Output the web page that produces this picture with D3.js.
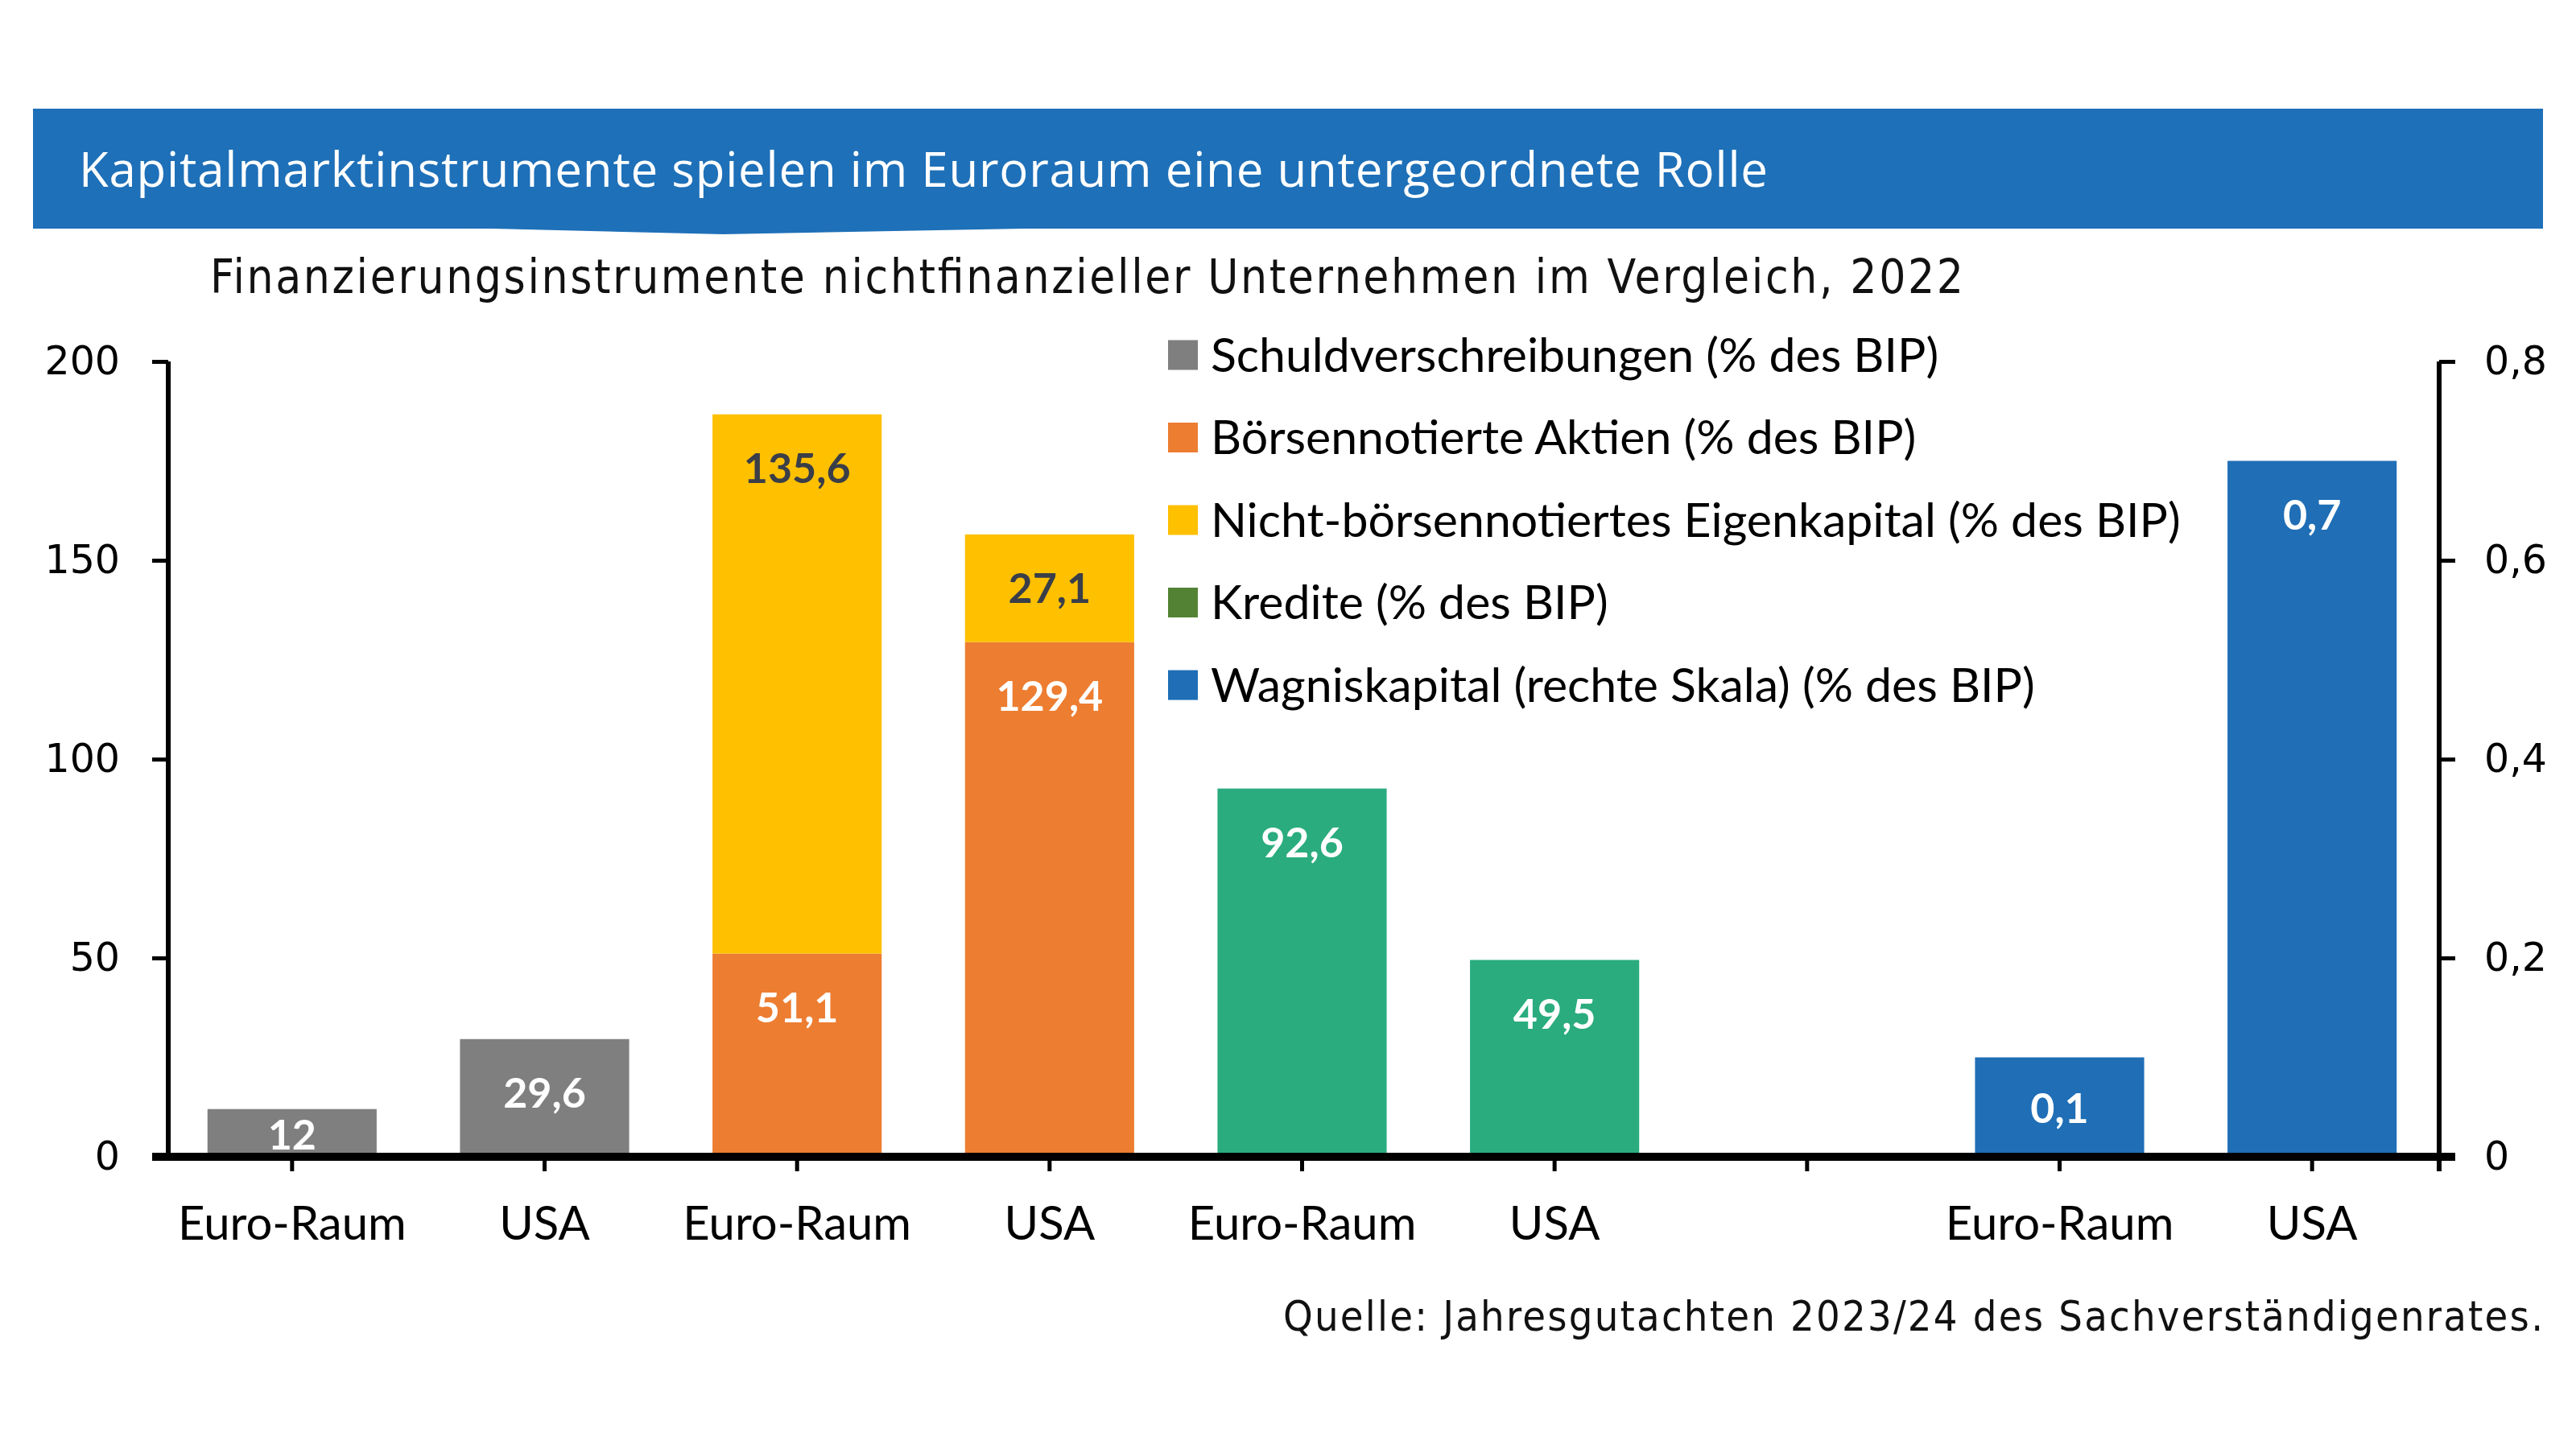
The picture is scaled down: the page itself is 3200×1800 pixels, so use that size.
<!DOCTYPE html>
<html>
<head>
<meta charset="utf-8">
<script src="https://cdn.jsdelivr.net/npm/d3@7"></script>
<style>
  body { margin: 0; background: #fff; }
</style>
</head>
<body>
<div id="chart"></div>
<script>
// chart data
const categories = ["Euro-Raum", "USA", "Euro-Raum", "USA", "Euro-Raum", "USA", "", "Euro-Raum", "USA"];
const schuldverschreibungen = [12, 29.6, 0, 0, 0, 0, 0, 0, 0];
const aktien = [0, 0, 51.1, 129.4, 0, 0, 0, 0, 0];
const eigenkapital = [0, 0, 135.6, 27.1, 0, 0, 0, 0, 0];
const kredite = [0, 0, 0, 0, 92.6, 49.5, 0, 0, 0];
const wagniskapital = [0, 0, 0, 0, 0, 0, 0, 0.1, 0.7];   // rechte Skala
const leftTicks = [0, 50, 100, 150, 200];
const rightTicks = [0, 0.2, 0.4, 0.6, 0.8];
const legendNames = [
  "Schuldverschreibungen (% des BIP)",
  "Börsennotierte Aktien (% des BIP)",
  "Nicht-börsennotiertes Eigenkapital (% des BIP)",
  "Kredite (% des BIP)",
  "Wagniskapital (rechte Skala) (% des BIP)"
];

const title = "Kapitalmarktinstrumente spielen im Euroraum eine untergeordnete Rolle";
const subtitle = "Finanzierungsinstrumente nichtfinanzieller Unternehmen im Vergleich, 2022";
const source = "Quelle: Jahresgutachten 2023/24 des Sachverständigenrates.";

const width = 3200, height = 1800;
const colors = {
  schuld: "#7f7f7f", aktien: "#ed7d31", eigen: "#ffc000",
  kredite: "#2aac7e", kreditLegend: "#548235", wagnis: "#1f6eb6"
};
const legendColors = [colors.schuld, colors.aktien, colors.eigen, colors.kreditLegend, colors.wagnis];

const de = d3.formatLocale({ decimal: ",", thousands: ".", grouping: [3], currency: ["", " €"] });
const fmt = de.format("~g");

const svg = d3.select("#chart").append("svg")
  .attr("width", width).attr("height", height);

// header band
svg.append("rect").attr("x", 41).attr("y", 135).attr("width", 3118).attr("height", 149)
  .attr("fill", "#1e70b8");
svg.append("path").attr("d", "M571,283 L898,291 L1327,283 Z").attr("fill", "#1e70b8");
svg.append("text").attr("x", 98).attr("y", 232)
  .attr("font-family", "'Open Sans'").attr("font-size", 60).attr("fill", "#fff")
  .attr("textLength", 2098)
  .text(title);

svg.append("text").attr("x", 261).attr("y", 364)
  .attr("font-family", "'DejaVu Sans Condensed', 'DejaVu Sans'").attr("font-size", 58).attr("fill", "#111")
  .attr("textLength", 2178)
  .text(subtitle);

// scales
const x = d3.scaleBand()
  .domain(categories.map((d, i) => i))
  .range([206, 3029])
  .paddingInner(0.33)
  .paddingOuter(0.165);
const y = d3.scaleLinear().domain([0, 200]).range([1437, 449]);
const y2 = d3.scaleLinear().domain([0, 0.8]).range([1437, 449]);

// stacked left-axis series
const rows = categories.map((c, i) => ({
  i: i, schuld: schuldverschreibungen[i], aktien: aktien[i], eigen: eigenkapital[i], kredite: kredite[i]
}));
const keys = ["schuld", "aktien", "kredite", "eigen"];
const stacked = d3.stack().keys(keys)(rows);

const labelColor = { schuld: "#fff", aktien: "#fff", eigen: "#3a3e48", kredite: "#fff", wagnis: "#fff" };
const segs = [];
stacked.forEach(s => s.forEach(d => {
  if (d[1] - d[0] > 0) segs.push({ key: s.key, i: d.data.i, y0: d[0], y1: d[1], v: d[1] - d[0], sc: y });
}));
wagniskapital.forEach((v, i) => {
  if (v > 0) segs.push({ key: "wagnis", i: i, y0: 0, y1: v, v: v, sc: y2 });
});

svg.append("g").selectAll("rect").data(segs).enter().append("rect")
  .attr("x", d => x(d.i))
  .attr("width", x.bandwidth())
  .attr("y", d => d.sc(d.y1))
  .attr("height", d => d.sc(d.y0) - d.sc(d.y1))
  .attr("fill", d => colors[d.key]);

svg.append("g").selectAll("text").data(segs).enter().append("text")
  .attr("x", d => x(d.i) + x.bandwidth() / 2)
  .attr("y", d => {
    const top = d.sc(d.y1), bot = d.sc(d.y0);
    return Math.min(top + 67, (top + bot) / 2 + 2);
  })
  .attr("dy", "0.35em")
  .attr("text-anchor", "middle")
  .attr("font-family", "Lato").attr("font-weight", "bold").attr("font-size", 52)
  .attr("fill", d => labelColor[d.key])
  .text(d => fmt(d.v));

// axes
const axisFont = (g) => g.selectAll("text")
  .attr("font-family", "'DejaVu Sans'").attr("font-size", 49).attr("fill", "#000");

const yAxis = svg.append("g").attr("transform", "translate(209,0)")
  .call(d3.axisLeft(y).tickValues(leftTicks).tickSize(20).tickPadding(40).tickFormat(fmt));
yAxis.call(axisFont);
yAxis.select(".domain").attr("stroke", "#000").attr("stroke-width", 6).attr("d", "M0,449V1437");
yAxis.selectAll(".tick line").attr("stroke-width", 5);

const y2Axis = svg.append("g").attr("transform", "translate(3030,0)")
  .call(d3.axisRight(y2).tickValues(rightTicks).tickSize(20).tickPadding(36).tickFormat(fmt));
y2Axis.call(axisFont);
y2Axis.selectAll("text").attr("text-anchor", "start");
y2Axis.select(".domain").attr("stroke", "#000").attr("stroke-width", 6).attr("d", "M0,449V1455");
y2Axis.selectAll(".tick line").attr("stroke-width", 5);

const xAxis = svg.append("g").attr("transform", "translate(0,1437)")
  .call(d3.axisBottom(x).tickSize(18).tickPadding(44).tickFormat(i => categories[i]));
xAxis.select(".domain").attr("stroke", "#000").attr("stroke-width", 10).attr("d", "M189,0H3050");
xAxis.selectAll(".tick line").attr("stroke-width", 5);
xAxis.selectAll("text").attr("font-family", "Lato").attr("font-size", 58).attr("fill", "#000")
  .attr("dy", "0.71em");

// legend
const legend = svg.append("g").selectAll("g").data(legendNames).enter().append("g")
  .attr("transform", (d, i) => "translate(1451," + (441 + i * 102.5) + ")");
legend.append("rect").attr("x", 0).attr("y", -18.5).attr("width", 37).attr("height", 37)
  .attr("fill", (d, i) => legendColors[i]);
legend.append("text").attr("x", 53).attr("y", 0).attr("dy", "0.35em")
  .attr("font-family", "Lato").attr("font-size", 59).attr("fill", "#000")
  .text(d => d);

// source
svg.append("text").attr("x", 1594).attr("y", 1653)
  .attr("font-family", "'DejaVu Sans Condensed', 'DejaVu Sans'").attr("font-size", 52).attr("fill", "#111")
  .attr("textLength", 1565)
  .text(source);
</script>
</body>
</html>
